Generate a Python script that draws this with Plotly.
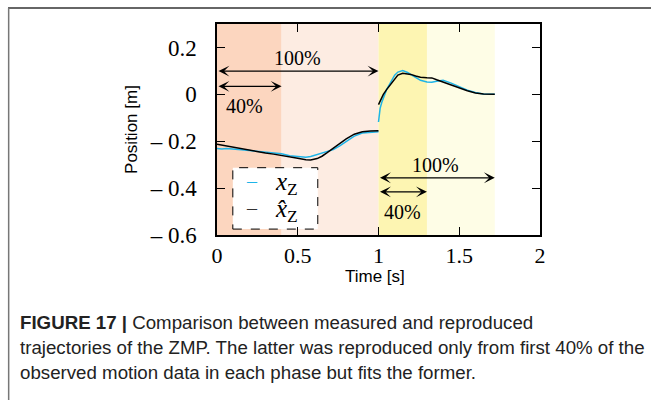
import plotly.graph_objects as go

# ---- data ----
t1 = [0.00, 0.03, 0.06, 0.10, 0.15, 0.20, 0.25, 0.30, 0.35, 0.40, 0.45, 0.50, 0.55, 0.58, 0.62, 0.65, 0.68, 0.72, 0.76, 0.80, 0.85, 0.90, 0.95, 1.00]
meas1 = [-0.231, -0.233, -0.231, -0.232, -0.236, -0.240, -0.244, -0.246, -0.249, -0.253, -0.262, -0.266, -0.268, -0.265, -0.257, -0.252, -0.245, -0.236, -0.220, -0.200, -0.178, -0.165, -0.162, -0.160]
recon1 = [-0.213, -0.217, -0.221, -0.226, -0.232, -0.238, -0.244, -0.250, -0.255, -0.260, -0.266, -0.273, -0.279, -0.280, -0.274, -0.264, -0.250, -0.230, -0.210, -0.190, -0.170, -0.160, -0.156, -0.155]

t2 = [1.00, 1.01, 1.02, 1.03, 1.05, 1.07, 1.10, 1.12, 1.15, 1.18, 1.20, 1.23, 1.26, 1.30, 1.33, 1.36, 1.40, 1.45, 1.50, 1.55, 1.60, 1.65, 1.72]
meas2 = [-0.118, -0.060, -0.035, -0.017, 0.020, 0.045, 0.082, 0.095, 0.101, 0.093, 0.085, 0.072, 0.060, 0.053, 0.052, 0.056, 0.060, 0.048, 0.033, 0.018, 0.008, 0.001, 0.000]
recon2 = [-0.044, -0.030, -0.015, 0.000, 0.020, 0.038, 0.065, 0.082, 0.090, 0.088, 0.085, 0.078, 0.073, 0.071, 0.070, 0.062, 0.052, 0.040, 0.026, 0.015, 0.006, 0.001, 0.000]

phase_start = [0.0, 1.0]
phase_40 = [0.4, 1.3]
phase_end = [1.0, 1.72]
arrow_y_100 = [0.099, -0.356]
arrow_y_40 = [0.034, -0.416]
label_100 = [(0.5, 0.153), (1.35, -0.30)]
label_40 = [(0.17, -0.05), (1.15, -0.50)]

x_tickvals = [0, 0.5, 1, 1.5, 2]
x_ticktext = ["0", "0.5", "1", "1.5", "2"]
y_tickvals = [0.2, 0, -0.2, -0.4, -0.6]
y_ticktext = ["0.2", "0", "– 0.2", "– 0.4", "– 0.6"]

legend_names = ["<i>x</i><sub>Z</sub>", "<i>x̂</i><sub>Z</sub>"]

caption = [
    "<b>FIGURE 17 |</b> Comparison between measured and reproduced",
    "trajectories of the ZMP. The latter was reproduced only from first 40% of the",
    "observed motion data in each phase but fits the former.",
]

dark_fill = ["#fcd6bf", "#fdf5b2"]
light_fill = ["#fdece2", "#fefde6"]
CYAN = "#1eb4e8"
SERIF = "Liberation Serif"
SANS = "Liberation Sans"

fig = go.Figure()

fig.add_trace(go.Scatter(x=t1, y=meas1, mode="lines", line=dict(color=CYAN, width=1.5),
                         name="measured", showlegend=False))
fig.add_trace(go.Scatter(x=t2, y=meas2, mode="lines", line=dict(color=CYAN, width=1.5),
                         name="measured", showlegend=False))
fig.add_trace(go.Scatter(x=t1, y=recon1, mode="lines", line=dict(color="black", width=1.5),
                         name="reproduced", showlegend=False))
fig.add_trace(go.Scatter(x=t2, y=recon2, mode="lines", line=dict(color="black", width=1.5),
                         name="reproduced", showlegend=False))

shapes = []
for s, m, e, dc, lc in zip(phase_start, phase_40, phase_end, dark_fill, light_fill):
    shapes.append(dict(type="rect", xref="x", yref="paper", x0=s, x1=m, y0=0, y1=1,
                       fillcolor=dc, line=dict(width=0), layer="below"))
    shapes.append(dict(type="rect", xref="x", yref="paper", x0=m, x1=e, y0=0, y1=1,
                       fillcolor=lc, line=dict(width=0), layer="below"))
shapes.append(dict(type="rect", xref="paper", yref="paper", x0=0.049, x1=0.312, y0=0.028, y1=0.319,
                   fillcolor="white", line=dict(color="black", width=1, dash="dash"), layer="below"))
shapes.append(dict(type="line", xref="paper", yref="paper", x0=-0.647, x1=1.4, y0=1.076, y1=1.076,
                   line=dict(color="#666666", width=2)))
shapes.append(dict(type="line", xref="paper", yref="paper", x0=-0.645, x1=-0.645, y0=1.076, y1=-0.8,
                   line=dict(color="#777777", width=1.5)))

annotations = []
for s, m, e, y100, y40, l100, l40 in zip(phase_start, phase_40, phase_end, arrow_y_100, arrow_y_40, label_100, label_40):
    annotations.append(dict(x=e, y=y100, ax=s, ay=y100, xref="x", yref="y", axref="x", ayref="y",
                            showarrow=True, arrowhead=3, arrowside="end+start", arrowwidth=1.3,
                            arrowsize=1.4, arrowcolor="black", text=""))
    annotations.append(dict(x=m, y=y40, ax=s, ay=y40, xref="x", yref="y", axref="x", ayref="y",
                            showarrow=True, arrowhead=3, arrowside="end+start", arrowwidth=1.3,
                            arrowsize=1.4, arrowcolor="black", text=""))
    annotations.append(dict(x=l100[0], y=l100[1], xref="x", yref="y", text="100%", showarrow=False,
                            font=dict(family=SERIF, size=20, color="black")))
    annotations.append(dict(x=l40[0], y=l40[1], xref="x", yref="y", text="40%", showarrow=False,
                            font=dict(family=SERIF, size=20, color="black")))

# legend drawn as text
leg_rows_y = [0.243, 0.117]
leg_colors = [CYAN, "#333333"]
for name, col, ly in zip(legend_names, leg_colors, leg_rows_y):
    annotations.append(dict(x=0.109, y=ly + 0.012, xref="paper", yref="paper", xanchor="center",
                            yanchor="middle", text="–", showarrow=False,
                            font=dict(family=SERIF, size=20, color=col)))
    annotations.append(dict(x=0.172, y=ly, xref="paper", yref="paper", xanchor="left",
                            yanchor="middle", text=name, showarrow=False,
                            font=dict(family=SERIF, size=25, color="black")))

# x-axis title
annotations.append(dict(x=0.488, y=-0.195, xref="paper", yref="paper", xanchor="center", yanchor="middle",
                        text="Time [s]", showarrow=False, font=dict(family=SANS, size=17, color="black")))

cap_y = [-0.417, -0.535, -0.654]
for line, cy in zip(caption, cap_y):
    annotations.append(dict(x=-0.617, y=cy, xref="paper", yref="paper", xanchor="left", yanchor="middle",
                            text=line, showarrow=False,
                            font=dict(family=SANS, size=18.7, color="#222222")))

fig.update_layout(
    width=651, height=400,
    margin=dict(l=217, r=111, t=24, b=165),
    paper_bgcolor="white", plot_bgcolor="white",
    shapes=shapes, annotations=annotations,
    showlegend=False,
    xaxis=dict(range=[0, 2], tickvals=x_tickvals, ticktext=x_ticktext, ticks="inside", ticklen=8,
               tickwidth=1, tickcolor="black", showline=True, linecolor="black", linewidth=1.5,
               mirror="allticks", showgrid=False, zeroline=False, ticklabelstandoff=0,
               tickfont=dict(family=SERIF, size=22, color="black")),
    yaxis=dict(range=[-0.6, 0.3], tickvals=y_tickvals, ticktext=y_ticktext, ticks="inside", ticklen=8,
               tickwidth=1, tickcolor="black", showline=True, linecolor="black", linewidth=1.5,
               mirror="allticks", showgrid=False, zeroline=False, ticklabelstandoff=14,
               tickfont=dict(family=SERIF, size=23, color="black"),
               title=dict(text="Position [m]", font=dict(family=SANS, size=17, color="black"), standoff=8)),
)

fig.write_html("out.html")
